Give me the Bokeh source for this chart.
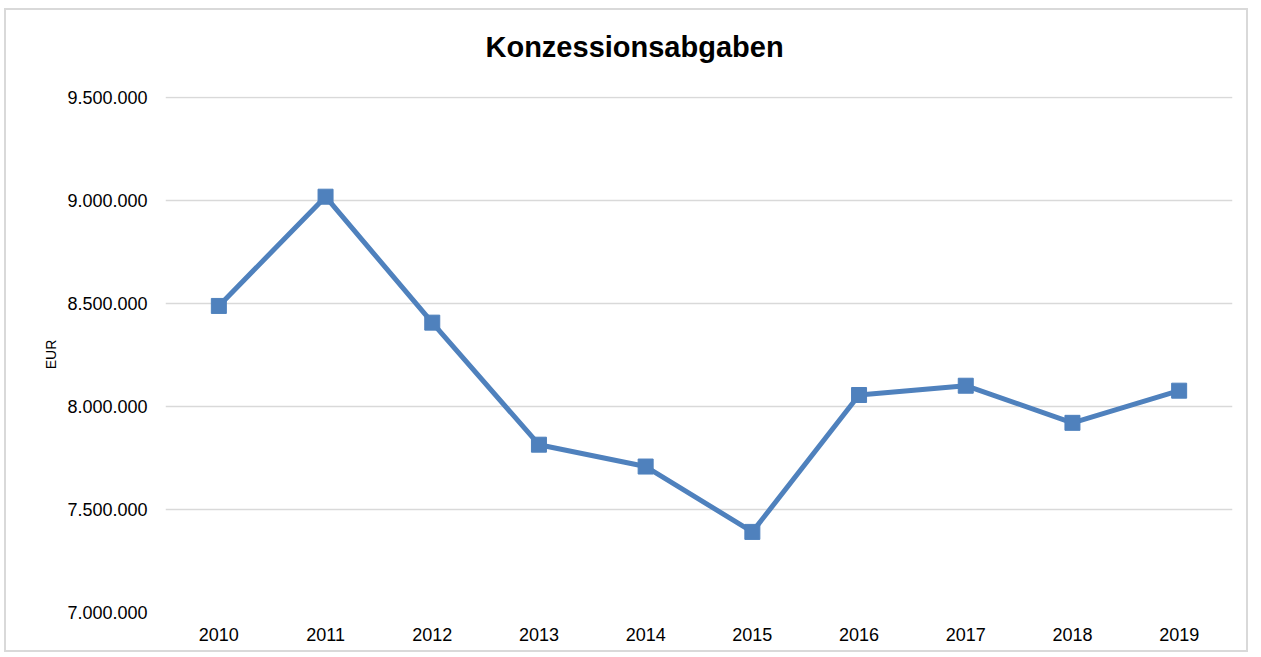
from bokeh.plotting import figure
from bokeh.models import Range1d, FactorRange, CustomJSTickFormatter, Title
from bokeh.embed import file_html
from bokeh.resources import INLINE

years = ["2010", "2011", "2012", "2013", "2014", "2015", "2016", "2017", "2018", "2019"]
values = [8487000, 9017000, 8406000, 7814000, 7708000, 7391000, 8055000, 8100000, 7920000, 8076000]
y_ticks = [7000000, 7500000, 8000000, 8500000, 9000000, 9500000]
title_text = "Konzessionsabgaben"
y_label = "EUR"

FONT = "Liberation Sans"
BLUE = "#4f81bd"
GRID = "#d9d9d9"

p = figure(
    width=1244, height=644,
    x_range=FactorRange(*years, range_padding=0),
    y_range=Range1d(7000000, 9503000),
    output_backend="svg", toolbar_location=None,
    min_border_left=159, min_border_right=18, min_border_top=86, min_border_bottom=42,
)
p.styles = {"border": "2px solid #d9d9d9", "margin-left": "4px", "margin-top": "8px"}
p.outline_line_color = None

# spacer between frame and title (placed closest to the frame)
p.add_layout(Title(text=" ", text_font=FONT, text_font_size="26px", standoff=0), "above")
p.add_layout(Title(text=title_text, align="left", offset=320, standoff=4,
                   text_font=FONT, text_font_size="29px", text_font_style="bold",
                   text_color="#000000"), "above")

p.line(years, values, line_color=BLUE, line_width=5)
p.scatter(years, values, marker="square", size=15, fill_color=BLUE, line_color=BLUE)

p.xgrid.grid_line_color = None
p.ygrid.grid_line_color = GRID
p.ygrid.grid_line_width = 1.5
p.yaxis.ticker = y_ticks
p.yaxis.formatter = CustomJSTickFormatter(
    code="return Math.round(tick).toString().replace(/\\B(?=(\\d{3})+(?!\\d))/g, '.');")

for ax in (p.xaxis[0], p.yaxis[0]):
    ax.axis_line_color = None
    ax.major_tick_line_color = None
    ax.minor_tick_line_color = None
    ax.major_label_text_font = FONT
    ax.major_label_text_font_size = "18px"
    ax.major_label_text_color = "#000000"

p.xaxis.major_label_standoff = 9
p.yaxis.major_label_standoff = 12
p.yaxis.axis_label = y_label
p.yaxis.axis_label_text_font = FONT
p.yaxis.axis_label_text_font_size = "14px"
p.yaxis.axis_label_text_font_style = "normal"
p.yaxis.axis_label_text_color = "#000000"
p.yaxis.axis_label_standoff = 5

open("out.html", "w").write(file_html(p, INLINE))
